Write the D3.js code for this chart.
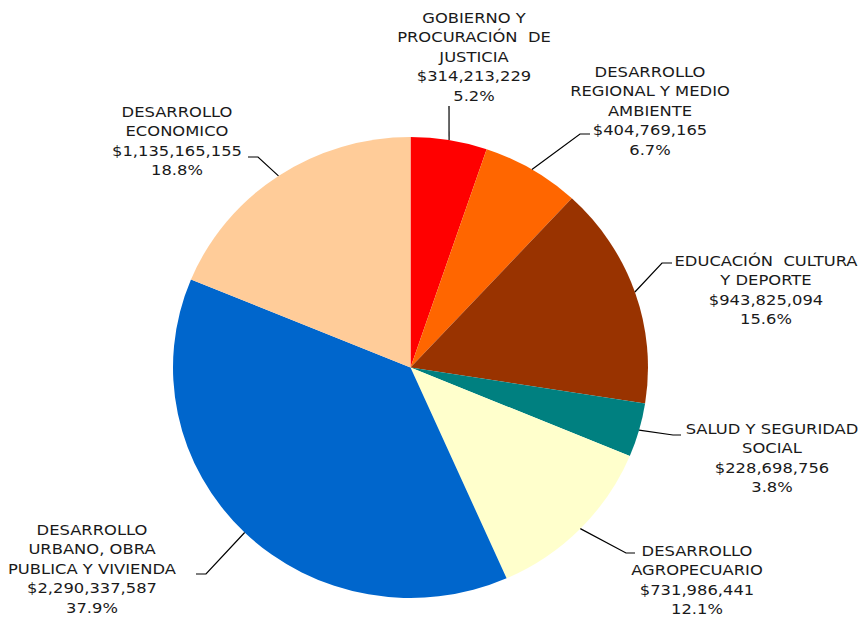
<!DOCTYPE html>
<html lang="en">
<head>
  <meta charset="UTF-8">
  <title>Pie</title>
  <style>
    body { margin: 0; background: #fff; }
    text {
      fill: #1a1a1a;
      font: 14.6px "DejaVu Sans", Verdana, sans-serif;
      white-space: pre;
    }
  </style>
</head>
<body>

  <div id="app"></div>

  <script src="https://cdn.jsdelivr.net/npm/d3@7"></script>
  <script>
    const categories = [
      ['GOBIERNO Y', 'PROCURACIÓN  DE', 'JUSTICIA'],
      ['DESARROLLO', 'REGIONAL Y MEDIO', 'AMBIENTE'],
      ['EDUCACIÓN  CULTURA', 'Y DEPORTE'],
      ['SALUD Y SEGURIDAD', 'SOCIAL'],
      ['DESARROLLO', 'AGROPECUARIO'],
      ['DESARROLLO', 'URBANO, OBRA', 'PUBLICA Y VIVIENDA'],
      ['DESARROLLO', 'ECONOMICO'],
    ]
    const values = [314213229, 404769165, 943825094, 228698756, 731986441, 2290337587, 1135165155]
    const colors = ['#ff0000', '#ff6600', '#993300', '#008080', '#ffffcc', '#0066cc', '#ffcc99']

    // label layout: centre x, first line y, leader elbow and end
    const labelPos = [
      { x: 474, y: 23, elbow: [449, 106], end: [449, 106] },
      { x: 650, y: 77, elbow: [580, 134], end: [590, 134] },
      { x: 766, y: 266, elbow: [662, 263], end: [672, 263] },
      { x: 772, y: 434, elbow: [673, 435], end: [681, 435] },
      { x: 697, y: 556, elbow: [626, 553], end: [635, 553] },
      { x: 92, y: 535, elbow: [206, 574], end: [196, 574] },
      { x: 177, y: 117, elbow: [258, 157], end: [248, 157] },
    ]

    const W = 865, H = 621
    const cx = 410.5, cy = 367.5, rx = 237.5, ry = 230.5
    const lineH = 19.5
    const stretch = 1.12

    const svg = d3.select('#app').append('svg')
      .attr('width', W)
      .attr('height', H)

    const total = d3.sum(values)
    const pie = d3.pie().sort(null).value(d => d)
    const arcs = pie(values)
    const arc = d3.arc().innerRadius(0).outerRadius(ry)

    svg.append('g')
      .attr('transform', `translate(${cx},${cy}) scale(${rx / ry},1)`)
      .selectAll('path')
      .data(arcs)
      .enter()
      .append('path')
      .attr('d', arc)
      .attr('fill', (d, i) => colors[i])

    const fmt = d3.format(',')
    const pct = d3.format('.1%')

    // leader lines
    svg.append('g').selectAll('polyline')
      .data(arcs)
      .enter()
      .append('polyline')
      .attr('points', (d, i) => {
        const a = (d.startAngle + d.endAngle) / 2
        const sx = cx + rx * Math.sin(a)
        const sy = cy - ry * Math.cos(a)
        const p = labelPos[i]
        return [[sx, sy], p.elbow, p.end].map(q => q.join(',')).join(' ')
      })
      .attr('fill', 'none')
      .attr('stroke', '#000')
      .attr('stroke-width', 1.2)

    // labels (widened a little to look like Verdana)
    const labels = svg.append('g').selectAll('text')
      .data(arcs)
      .enter()
      .append('text')
      .attr('text-anchor', 'middle')
      .attr('transform', (d, i) => `translate(${labelPos[i].x},${labelPos[i].y}) scale(${stretch},1)`)

    labels.each(function(d, i) {
      const lines = categories[i].concat(['$' + fmt(values[i]), pct(values[i] / total)])
      d3.select(this).selectAll('tspan')
        .data(lines)
        .enter()
        .append('tspan')
        .attr('x', 0)
        .attr('dy', (t, j) => j === 0 ? 0 : lineH)
        .text(t => t)
    })
  </script>
</body>
</html>
